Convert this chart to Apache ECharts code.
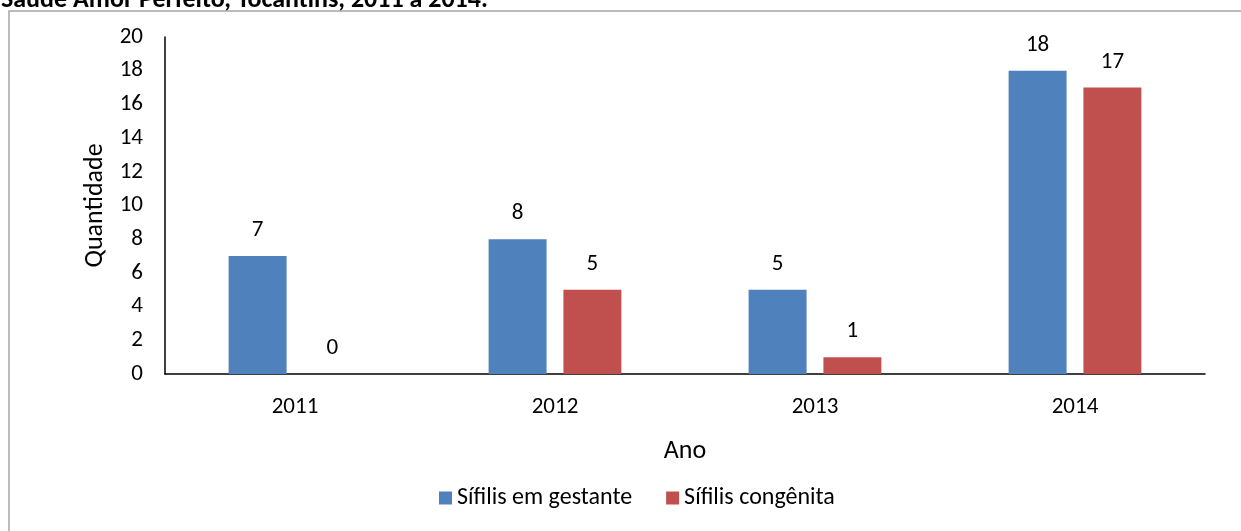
<!DOCTYPE html>
<html>
<head>
<meta charset="utf-8">
<script src="https://cdn.jsdelivr.net/npm/echarts@6/dist/echarts.min.js"></script>
<style>
  html, body { margin: 0; padding: 0; background: #fff; }
  #chart { width: 1241px; height: 531px; }
</style>
</head>
<body>
<div id="chart"></div>
<script>
// dados
const anos = ['2011', '2012', '2013', '2014'];
const gestante = [7, 8, 5, 18];
const congenita = [0, 5, 1, 17];

const fonte = 'Carlito, "Open Sans", "Noto Sans", sans-serif';

let mycharts = echarts.init(document.getElementById('chart'));
mycharts.setOption({
    animation: false,
    textStyle: { fontFamily: fonte },
    title: {
        text: 'Saúde Amor Perfeito, Tocantins, 2011 a 2014.',
        left: -4,
        top: -18,
        textStyle: { color: '#000', fontSize: 26, fontWeight: 'bold', fontFamily: fonte }
    },
    // moldura do gráfico
    graphic: [{
        type: 'rect',
        shape: { x: 9, y: 11, width: 1260, height: 540 },
        style: { fill: 'none', stroke: '#a6a6a6', lineWidth: 1.5 },
        silent: true
    }],
    grid: { left: 165, right: 36, top: 37, bottom: 157 },
    legend: {
        bottom: 16,
        left: 434,
        itemWidth: 13,
        itemHeight: 13,
        itemGap: 34,
        icon: 'rect',
        textStyle: { color: '#000', fontSize: 24, fontFamily: fonte }
    },
    xAxis: {
        type: 'category',
        data: anos,
        name: 'Ano',
        nameLocation: 'middle',
        nameGap: 64,
        nameTextStyle: { color: '#000', fontSize: 26, fontFamily: fonte },
        axisLine: { show: true, lineStyle: { color: '#000', width: 1.5 } },
        axisTick: { show: false },
        axisLabel: { color: '#000', fontSize: 23, margin: 22, fontFamily: fonte }
    },
    yAxis: {
        type: 'value',
        min: 0,
        max: 20,
        interval: 2,
        name: 'Quantidade',
        nameLocation: 'middle',
        nameGap: 57,
        nameTextStyle: { color: '#000', fontSize: 26, fontFamily: fonte },
        splitLine: { show: false },
        axisLine: { show: true, lineStyle: { color: '#000', width: 1.5 } },
        axisTick: { show: false },
        axisLabel: { color: '#000', fontSize: 23, margin: 22, fontFamily: fonte }
    },
    series: [
        {
            name: 'Sífilis em gestante',
            type: 'bar',
            data: gestante,
            barWidth: '22.3%',
            barGap: '29%',
            itemStyle: { color: '#4f81bd' },
            label: { show: true, position: 'top', distance: 14, color: '#000', fontSize: 23, fontFamily: fonte }
        },
        {
            name: 'Sífilis congênita',
            type: 'bar',
            data: congenita,
            barWidth: '22.3%',
            itemStyle: { color: '#c0504d' },
            label: { show: true, position: 'top', distance: 14, color: '#000', fontSize: 23, fontFamily: fonte }
        }
    ]
});
</script>
</body>
</html>
